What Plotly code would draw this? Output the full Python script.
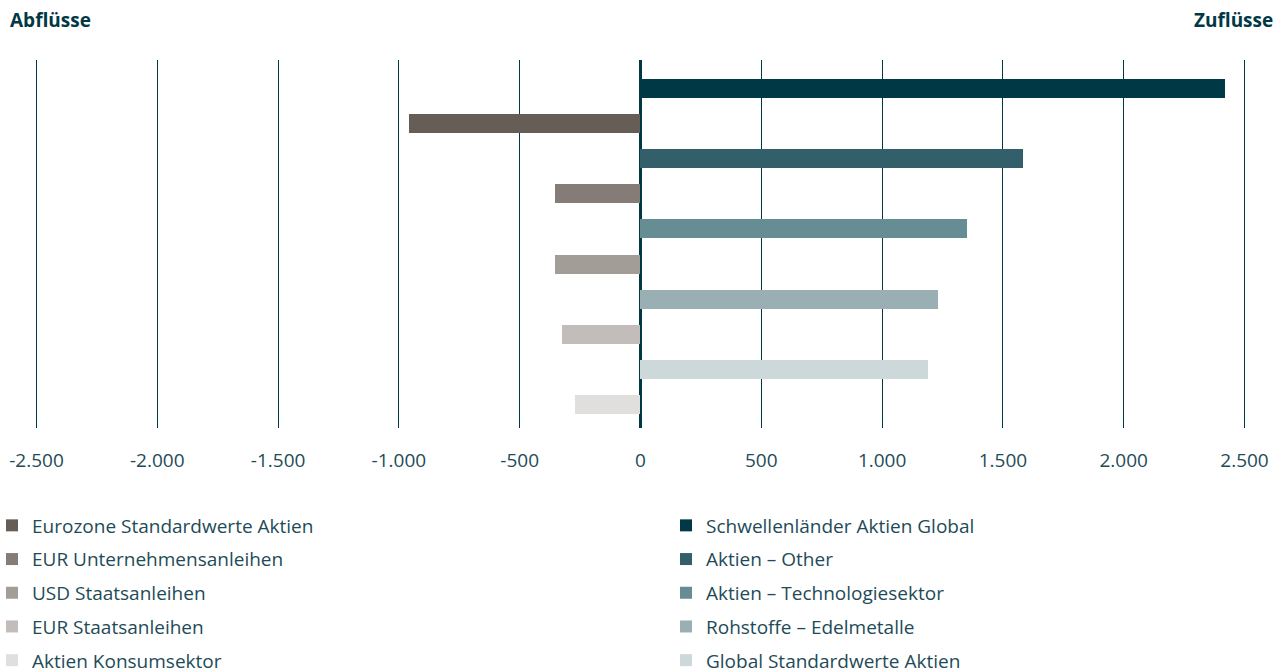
import plotly.graph_objects as go

categories = [
    "Schwellenländer Aktien Global",
    "Eurozone Standardwerte Aktien",
    "Aktien – Other",
    "EUR Unternehmensanleihen",
    "Aktien – Technologiesektor",
    "USD Staatsanleihen",
    "Rohstoffe – Edelmetalle",
    "EUR Staatsanleihen",
    "Global Standardwerte Aktien",
    "Aktien Konsumsektor",
]
values = [2420, -960, 1585, -355, 1350, -355, 1230, -325, 1190, -272]
colors = ["#003845", "#675D57", "#335F6A", "#857C77", "#668C94",
          "#A39D98", "#99AFB4", "#C2BDBA", "#CCD8DA", "#E0DFDD"]
tick_vals = [-2500, -2000, -1500, -1000, -500, 0, 500, 1000, 1500, 2000, 2500]
tick_text = ["-2.500", "-2.000", "-1.500", "-1.000", "-500", "0", "500",
             "1.000", "1.500", "2.000", "2.500"]

TEXT = "#1E4B57"
FONT = "Open Sans"
W, H = 1277, 671

fig = go.Figure()
for i, (cat, v, c) in enumerate(zip(categories, values, colors)):
    fig.add_trace(go.Bar(
        x=[v], y=[i], orientation="h", name=cat,
        marker=dict(color=c, line=dict(width=0)), width=0.543,
        legend="legend" if v < 0 else "legend2",
        legendgroup=cat, hoverinfo="x+name",
    ))

legend_common = dict(
    xanchor="left", yref="container", y=1 - 506.5 / H, yanchor="top",
    orientation="v", traceorder="grouped", tracegroupgap=6, indentation=-8,
    font=dict(size=19, color=TEXT, family=FONT), itemclick=False,
    bgcolor="rgba(0,0,0,0)", borderwidth=0,
)

fig.update_layout(
    width=W, height=H,
    margin=dict(l=0, r=0, t=60, b=243, autoexpand=False),
    paper_bgcolor="white", plot_bgcolor="white",
    barmode="overlay", bargap=0,
    font=dict(family=FONT, color=TEXT, size=19),
    xaxis=dict(range=[-2651, 2634.5], tickvals=tick_vals, ticktext=tick_text,
               showgrid=True, gridcolor="#003845", gridwidth=1,
               zeroline=True, zerolinecolor="#003845", zerolinewidth=3,
               showline=False, ticks="", ticklabelstandoff=19,
               tickfont=dict(size=19, color=TEXT, family=FONT)),
    yaxis=dict(range=[9.671, -0.814], showticklabels=False, showgrid=False,
               zeroline=False, showline=False, ticks=""),
    legend=dict(x=0, xref="container", **legend_common),
    legend2=dict(x=674 / W, xref="container", **legend_common),
    showlegend=True,
    annotations=[
        dict(text="<b>Abflüsse</b>", xref="paper", yref="paper",
             x=8 / W, y=(428 - 20) / 368, xanchor="left", yanchor="middle",
             showarrow=False, font=dict(size=19, color="#003845", family=FONT)),
        dict(text="<b>Zuflüsse</b>", xref="paper", yref="paper",
             x=1275 / W, y=(428 - 20) / 368, xanchor="right", yanchor="middle",
             showarrow=False, font=dict(size=19, color="#003845", family=FONT)),
    ],
)

fig.write_html("out.html")
